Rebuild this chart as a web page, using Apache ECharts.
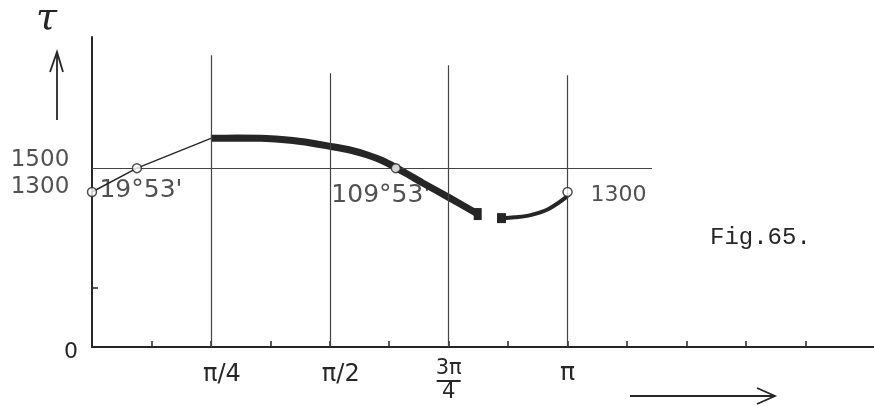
<!DOCTYPE html>
<html><head><meta charset="utf-8">
<script src="https://cdn.jsdelivr.net/npm/echarts@6/dist/echarts.min.js"></script>
<style>html,body{margin:0;padding:0;background:#fff}#c{width:874px;height:406px}</style>
</head><body><div id="c"></div>
<script>
// angles in degrees, torque values
const risingAngles = [0, 17, 45];
const risingValues = [1300, 1500, 1750];
const mainAngles = [45, 55, 66, 79, 91, 98, 104, 110, 115, 120, 125, 135, 146];
const mainValues = [1750, 1752, 1748, 1724, 1680, 1650, 1612, 1562, 1505, 1442, 1378, 1255, 1115];
const tailAngles = [155, 160, 166, 173, 180];
const tailValues = [1081, 1088, 1106, 1160, 1265];
const circleAngles = [0, 17, 115, 180];
const circleValues = [1300, 1500, 1500, 1300];
const circleLabels = ['', "19°53'", "109°53'", '1300'];
const yMarkValues = [1500, 1300];
const yMarkLabels = ['1500', '1300'];
const refLineValue = 1500;
const refLineEnd = 212;
const gridAngles = [45, 90, 135, 180];
const gridTops = [2447, 2296, 2363, 2279];
const minorTickAngles = [22.5, 45, 67.5, 90, 112.5, 135, 157.5, 180, 202.5, 225, 247.5, 270];
const xLabelAngles = [45, 90, 135, 180];
const xLabelTexts = ['{a|π/4}', '{a|π/2}', '{b|3π}\n{c|}\n{b|4}', '{d|π}'];
const yTickValues = [500];

const ink = '#262626';
const font = 'DejaVu Sans';
const chart = echarts.init(document.getElementById('c'));
const zip = (a, b) => a.map((v, i) => [v, b[i]]);
const circleOffsets = [[0,0],[4,22],[-15,27],[51,3]];
const yMarkOffsets = [[-52,-8],[-52,-5]];
const lbl = { fontFamily: font, fontSize: 23, color: ink };

chart.setOption({
  animation: false,
  backgroundColor: '#fff',
  grid: { left: 92, right: 0, top: 37, bottom: 59 },
  xAxis: {
    type: 'value', min: 0, max: 296,
    axisLine: { lineStyle: { color: ink, width: 2 } },
    splitLine: { show: false },
    axisTick: { inside: true, length: 6, customValues: minorTickAngles, lineStyle: { color: ink, width: 1.5 } },
    axisLabel: {
      customValues: xLabelAngles, margin: 12,
      formatter: v => xLabelTexts[xLabelAngles.indexOf(v)],
      color: ink,
      rich: {
        a: { fontFamily: font, fontSize: 24, color: ink, padding: [4, 0, 0, 22] },
        b: { fontFamily: font, fontSize: 21, color: ink, lineHeight: 20 },
        c: { width: 24, height: 2, backgroundColor: ink, lineHeight: 4 },
        d: { fontFamily: font, fontSize: 25, color: ink, padding: [2, 0, 0, 0] }
      }
    }
  },
  yAxis: {
    type: 'value', min: 0, max: 2600,
    axisLine: { show: true, lineStyle: { color: ink, width: 2 } },
    splitLine: { show: false },
    axisTick: { show: true, inside: true, length: 6, customValues: yTickValues, lineStyle: { color: ink, width: 1.5 } },
    axisLabel: { customValues: [0], margin: 14, fontFamily: font, fontSize: 22, color: ink, verticalAlign: 'top', lineHeight: 10 }
  },
  graphic: [
    { type: 'text', left: 36, top: 0, style: { text: 'τ', font: 'italic 38px "DejaVu Serif"', fill: ink } },
    { type: 'polyline', shape: { points: [[57, 120], [57, 52]] }, style: { stroke: ink, lineWidth: 1.8 } },
    { type: 'polyline', shape: { points: [[50, 72], [57, 52], [63, 72]] }, style: { stroke: ink, lineWidth: 1.8, fill: null } },
    { type: 'polyline', shape: { points: [[630, 396], [775, 396]] }, style: { stroke: ink, lineWidth: 2.2 } },
    { type: 'polyline', shape: { points: [[757, 388], [775, 396], [757, 404]] }, style: { stroke: ink, lineWidth: 1.8, fill: null } },
    { type: 'text', left: 710, top: 226, style: { text: 'Fig.65.', font: '24px "Liberation Mono"', fill: ink } }
  ],
  series: [
    {
      type: 'line', data: zip(risingAngles, risingValues), symbol: 'none',
      lineStyle: { color: ink, width: 1.5 },
      markLine: {
        symbol: 'none', silent: true, label: { show: false },
        lineStyle: { color: '#444', width: 1.2, type: 'solid' },
        data: gridAngles.map((a, i) => [{ coord: [a, 0] }, { coord: [a, gridTops[i]] }])
          .concat([[{ coord: [0, refLineValue] }, { coord: [refLineEnd, refLineValue] }]])
      }
    },
    {
      type: 'line', data: zip(mainAngles, mainValues).map((p, i, arr) => i === arr.length - 1 ? { value: p, symbol: 'rect', symbolSize: [8, 12] } : { value: p, symbol: 'none' }),
      smooth: 0.3, showSymbol: true, itemStyle: { color: ink },
      lineStyle: { color: ink, width: 7, cap: 'butt' }
    },
    {
      type: 'line', data: zip(tailAngles, tailValues).map((p, i) => i === 0 ? { value: p, symbol: 'rect', symbolSize: [9, 10] } : { value: p, symbol: 'none' }),
      smooth: 0.35, showSymbol: true, itemStyle: { color: ink },
      lineStyle: { color: ink, width: 4 }
    },
    {
      type: 'scatter', symbol: 'circle', symbolSize: 9,
      itemStyle: { color: '#fff', borderColor: ink, borderWidth: 1.5 },
      data: zip(circleAngles, circleValues).map((p, i) => ({
        value: p,
        label: Object.assign({ show: !!circleLabels[i], position: 'inside', offset: circleOffsets[i], formatter: circleLabels[i] },
          lbl, { fontSize: i === 3 ? 22 : 25 })
      })),
      z: 5
    },
    {
      type: 'scatter', symbol: 'circle', symbolSize: 1,
      itemStyle: { color: 'rgba(0,0,0,0)' },
      data: yMarkValues.map((v, i) => ({
        value: [0, v],
        label: Object.assign({ show: true, position: 'inside', offset: yMarkOffsets[i], formatter: yMarkLabels[i] }, lbl)
      }))
    }
  ]
});
</script></body></html>
